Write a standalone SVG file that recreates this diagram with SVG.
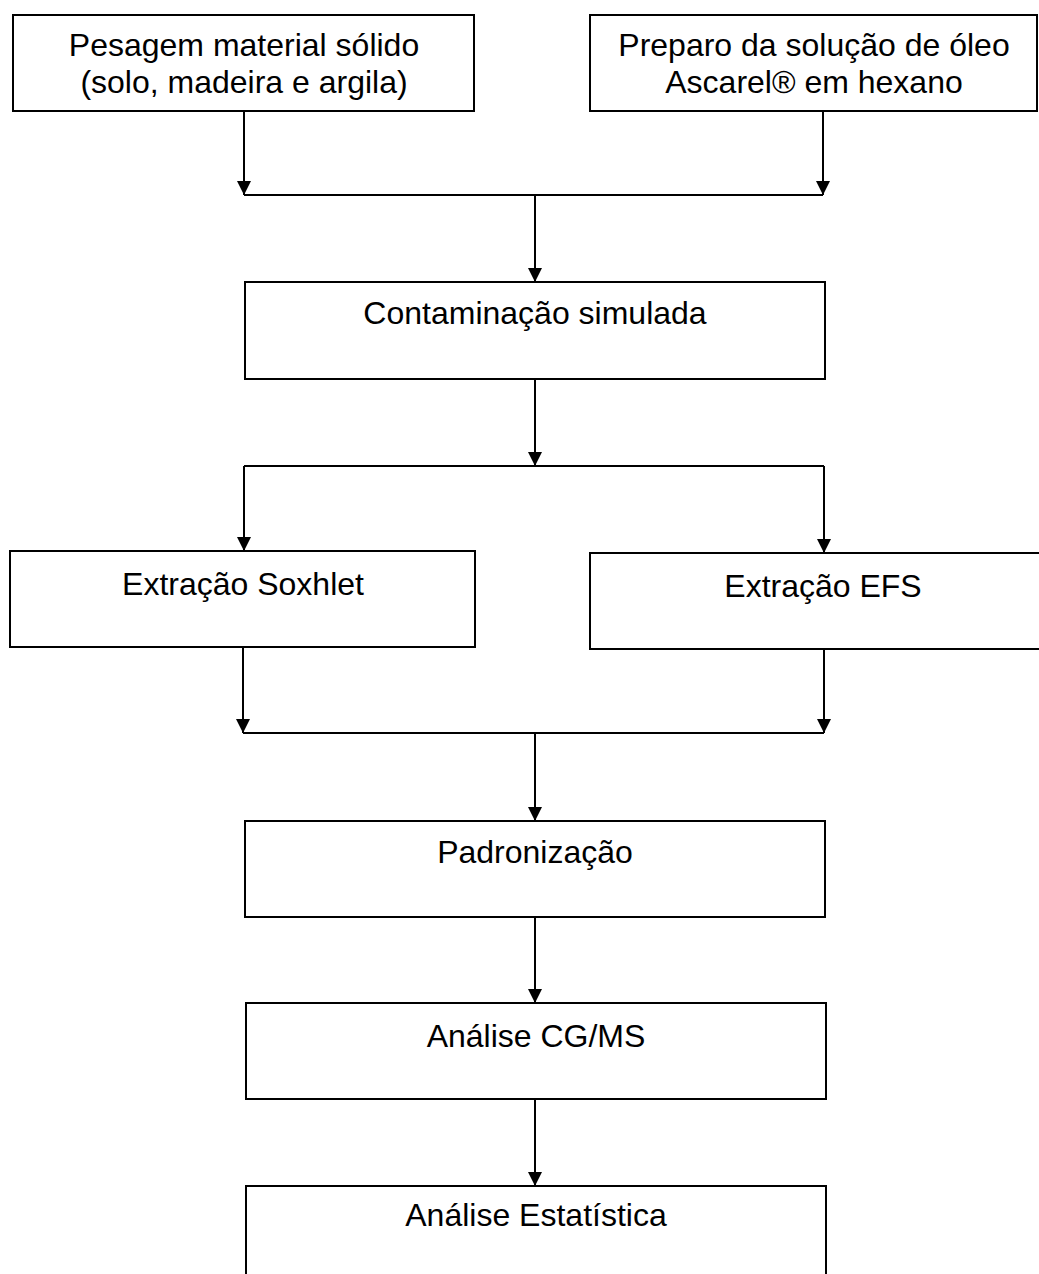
<svg xmlns="http://www.w3.org/2000/svg" width="1039" height="1274" viewBox="0 0 1039 1274">
<style>
.box{fill:#fff;stroke:#000;stroke-width:2}
.lbl{font-family:"Liberation Sans",Arial,sans-serif;font-size:32px;fill:#000;text-anchor:middle}
.ln{stroke:#000;stroke-width:2;fill:none}
</style>
<defs>
<marker id="ah" markerUnits="userSpaceOnUse" markerWidth="14" markerHeight="14" refX="14" refY="7" orient="auto">
<path d="M0,0 L14,7 L0,14 z" fill="#000"/>
</marker>
</defs>
<rect width="1039" height="1274" fill="#fff"/>
<g id="n1"><rect class="box" x="13" y="15" width="461" height="96"/>
<text class="lbl" x="244" y="56">Pesagem material sólido</text>
<text class="lbl" x="244" y="93">(solo, madeira e argila)</text></g>
<g id="n2"><rect class="box" x="590" y="15" width="447" height="96"/>
<text class="lbl" x="814" y="56">Preparo da solução de óleo</text>
<text class="lbl" x="814" y="93">Ascarel® em hexano</text></g>
<g id="n3"><rect class="box" x="245" y="282" width="580" height="97"/>
<text class="lbl" x="535" y="324">Contaminação simulada</text></g>
<g id="n4"><rect class="box" x="10" y="551" width="465" height="96"/>
<text class="lbl" x="243" y="595">Extração Soxhlet</text></g>
<g id="n5"><rect class="box" x="590" y="553" width="470" height="96"/>
<text class="lbl" x="823" y="597">Extração EFS</text></g>
<g id="n6"><rect class="box" x="245" y="821" width="580" height="96"/>
<text class="lbl" x="535" y="863">Padronização</text></g>
<g id="n7"><rect class="box" x="246" y="1003" width="580" height="96"/>
<text class="lbl" x="536" y="1047">Análise CG/MS</text></g>
<g id="n8"><rect class="box" x="246" y="1186" width="580" height="120"/>
<text class="lbl" x="536" y="1226">Análise Estatística</text></g>
<g id="connectors">
<line class="ln" x1="244" y1="111" x2="244" y2="195" marker-end="url(#ah)"/>
<line class="ln" x1="823" y1="111" x2="823" y2="195" marker-end="url(#ah)"/>
<line class="ln" x1="244" y1="195" x2="823" y2="195"/>
<line class="ln" x1="535" y1="195" x2="535" y2="282" marker-end="url(#ah)"/>
<line class="ln" x1="535" y1="379" x2="535" y2="466" marker-end="url(#ah)"/>
<line class="ln" x1="244" y1="466" x2="824" y2="466"/>
<line class="ln" x1="244" y1="466" x2="244" y2="551" marker-end="url(#ah)"/>
<line class="ln" x1="824" y1="466" x2="824" y2="553" marker-end="url(#ah)"/>
<line class="ln" x1="243" y1="647" x2="243" y2="733" marker-end="url(#ah)"/>
<line class="ln" x1="824" y1="649" x2="824" y2="733" marker-end="url(#ah)"/>
<line class="ln" x1="243" y1="733" x2="824" y2="733"/>
<line class="ln" x1="535" y1="733" x2="535" y2="821" marker-end="url(#ah)"/>
<line class="ln" x1="535" y1="917" x2="535" y2="1003" marker-end="url(#ah)"/>
<line class="ln" x1="535" y1="1099" x2="535" y2="1186" marker-end="url(#ah)"/>
</g>
</svg>
